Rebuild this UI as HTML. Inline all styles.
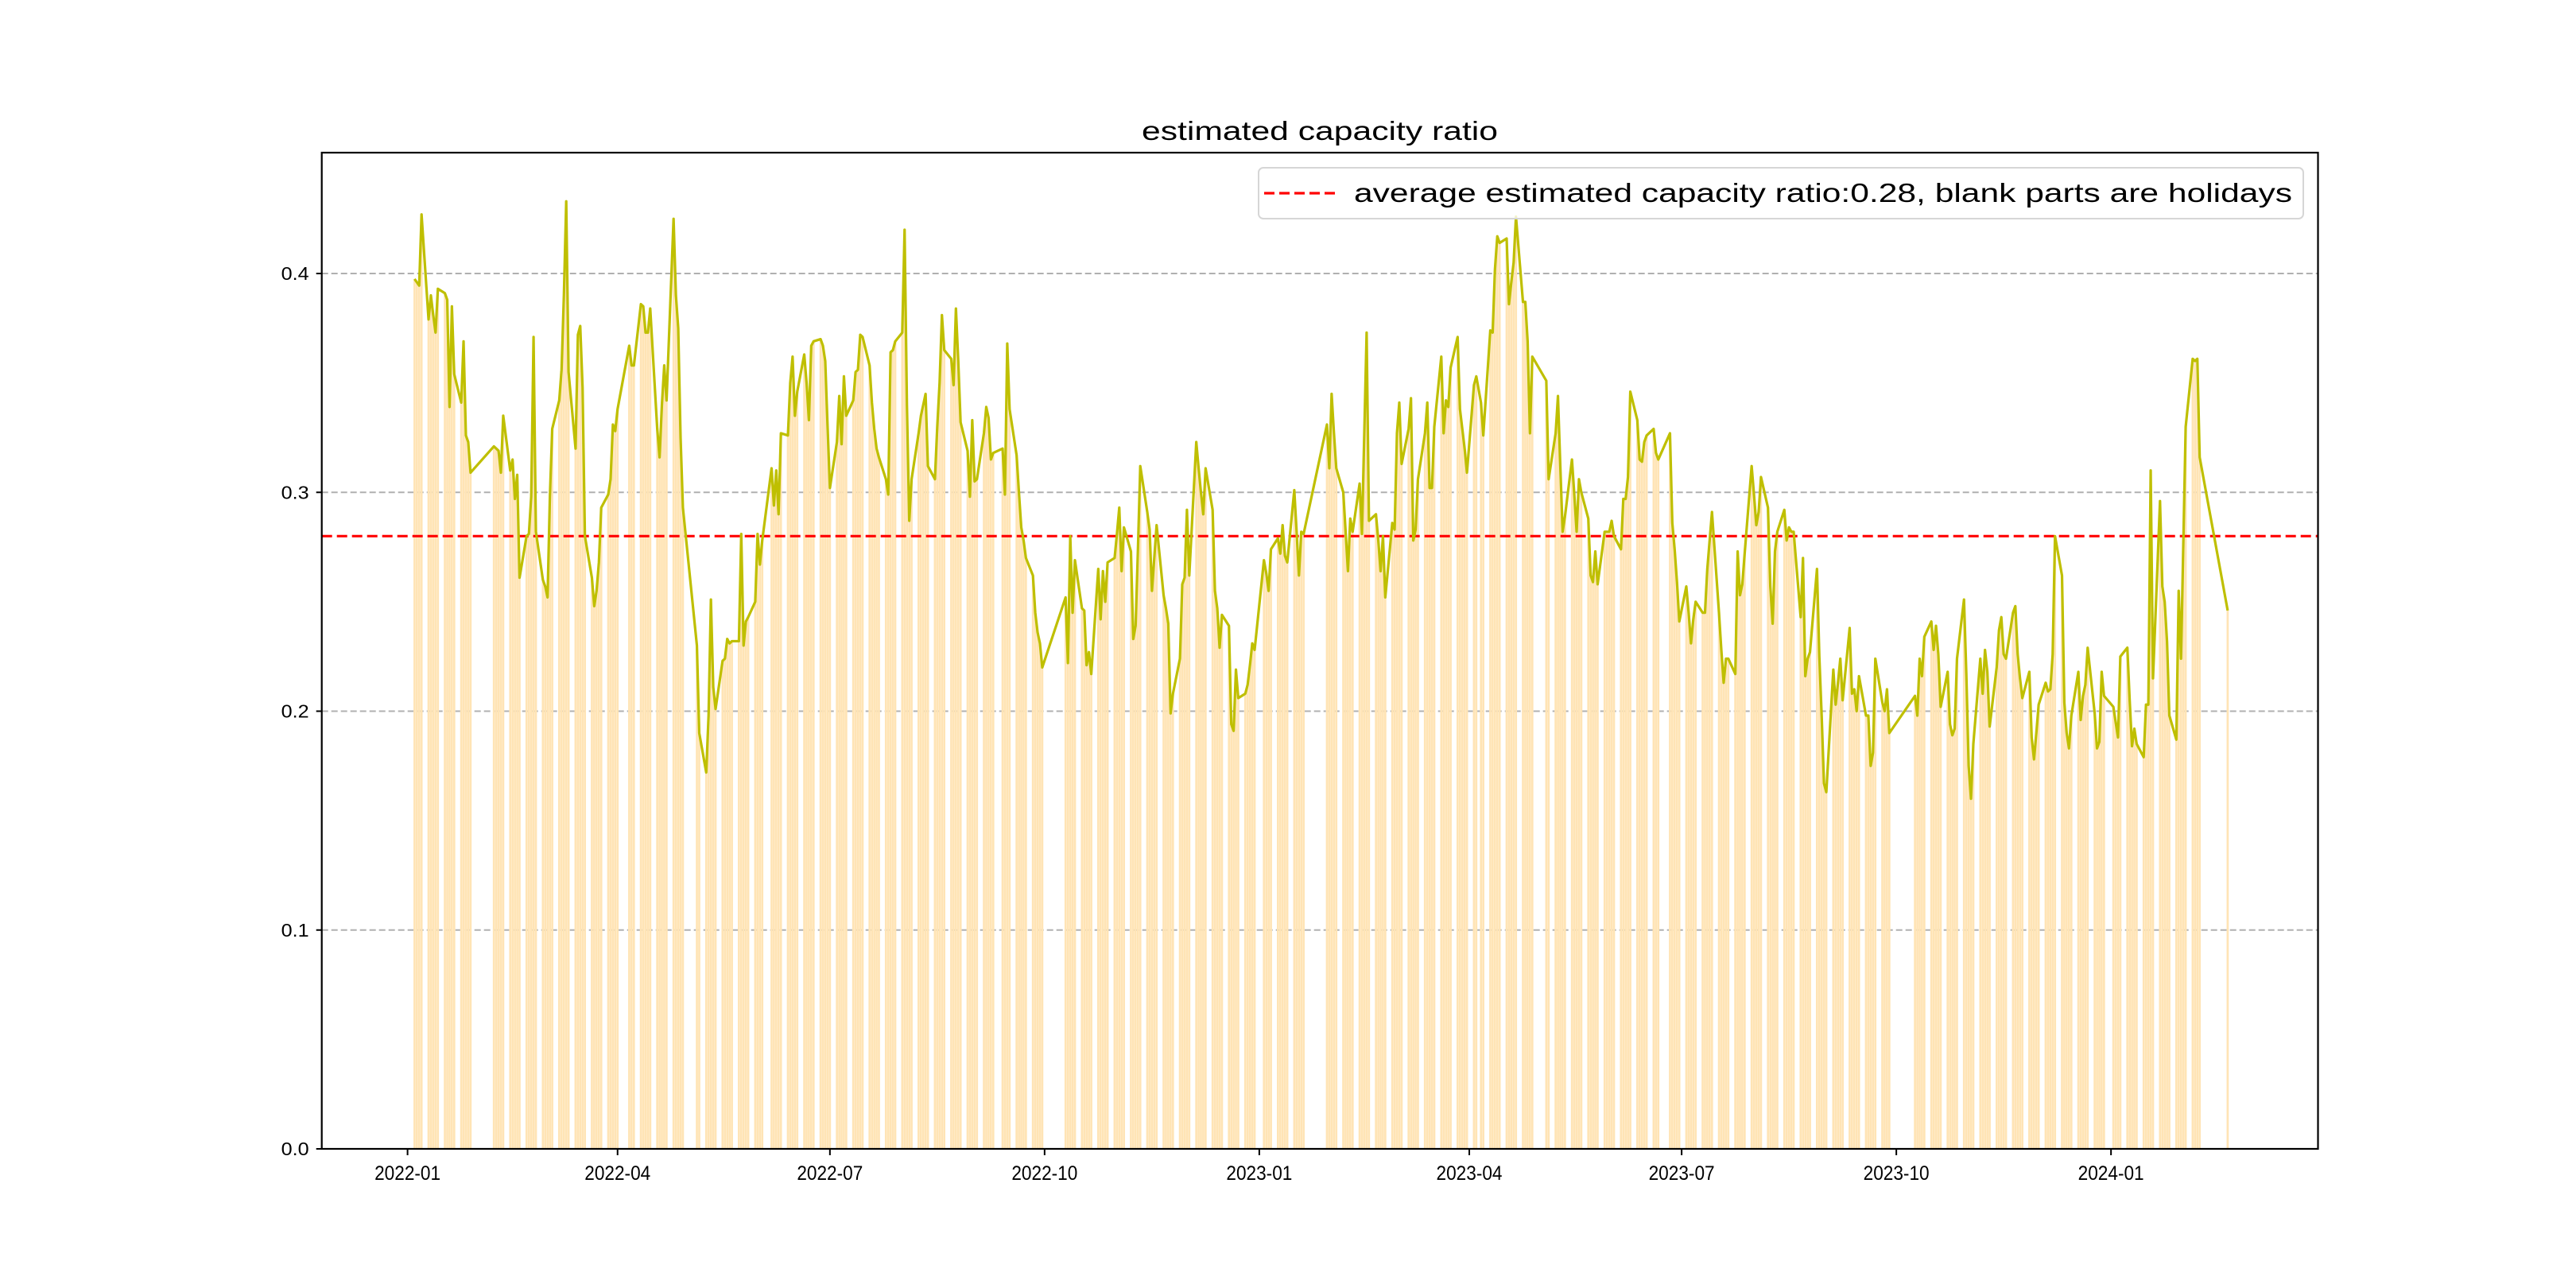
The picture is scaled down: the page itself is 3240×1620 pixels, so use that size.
<!DOCTYPE html>
<html><head><meta charset="utf-8"><style>
html,body{margin:0;padding:0;background:#fff;}
svg{display:block;}
text{font-family:"Liberation Sans","WenQuanYi Zen Hei",sans-serif;fill:#000;}
</style></head><body>
<svg id="chart" width="3240" height="1620" viewBox="0 0 3240 1620" xmlns="http://www.w3.org/2000/svg">
<rect x="0" y="0" width="3240" height="1620" fill="#fff"/>
<g id="grid"></g>
<g id="bars"></g>
<g id="avg"></g>
<g id="line"></g>
<rect x="404.7" y="192" width="2510.8" height="1253" fill="none" stroke="#000" stroke-width="2.2"/>
<g id="axes"></g>
<text x="1660" y="176" text-anchor="middle" font-size="33" textLength="448" lengthAdjust="spacingAndGlyphs">estimated capacity ratio</text>
<g>
<rect x="1583" y="211" width="1314" height="64" rx="6" fill="#fff" fill-opacity="0.8" stroke="#d6d6d6" stroke-width="2"/>
<line x1="1590" y1="243" x2="1684" y2="243" stroke="#ff0000" stroke-width="3.2" stroke-dasharray="13,6"/>
<text x="1703" y="254" font-size="33" textLength="1180" lengthAdjust="spacingAndGlyphs">average estimated capacity ratio:0.28, blank parts are holidays</text>
</g>
</svg>
<script>
// ---- data ----
const holidays = ["2022-01-03","2022-01-31","2022-02-01","2022-02-02","2022-02-03","2022-02-04","2022-04-04","2022-04-05","2022-05-02","2022-05-03","2022-05-04","2022-06-03","2022-09-12","2022-10-03","2022-10-04","2022-10-05","2022-10-06","2022-10-07","2023-01-02","2023-01-23","2023-01-24","2023-01-25","2023-01-26","2023-01-27","2023-04-05","2023-05-01","2023-05-02","2023-05-03","2023-06-22","2023-06-23","2023-09-29","2023-10-02","2023-10-03","2023-10-04","2023-10-05","2023-10-06","2024-01-01"];
const startDate = "2022-01-04";
const endDate = "2024-02-08";
const extraDates = ["2024-02-20"];
const ratios = [
.3975,.396,.3945,.427, .379,.390,.381,.373,.393, .391,.388,.339,.385,.354, .341,.369,.326,.323,.309,
.321,.320,.319,.309,.335, .310,.315,.297,.308,.261, .280,.281,.298,.371,.282, .260,.257,.252,.298,.329,
.342,.356,.39,.433,.355, .320,.372,.376,.348,.280, .261,.248,.255,.268,.293, .299,.306,.331,.328,.338,
.367,.358,.358, .386,.385,.373,.373,.384, .329,.316,.34,.358,.342, .425,.390,.375,.325,.293,
.230,.19, .172,.198,.251,.211,.201, .223,.224,.233,.231,.232, .232,.281,.230,.241,.243, .250,.281,.267,.278,
.311,.294,.310,.290,.327, .326,.35,.362,.335,.346, .363,.35,.333,.367,.369, .370,.367,.36,.33,.302,
.323,.344,.322,.353,.335, .342,.355,.356,.372,.371, .358,.341,.329,.320,.316, .306,.299,.364,.365,.369,
.373,.420,.34,.287,.306, .327,.335,.34,.345,.312, .306,.33,.35,.381,.365, .361,.349,.384,.36,.332,
.319,.298,.333,.305,.306, .327,.339,.334,.315,.318, .32,.299,.368,.338, .317,.30,.284,.278,.27, .262,.245,.236,.231,.22,
.252,.222,.28,.245,.269, .247,.246,.221,.227,.217, .265,.242,.264,.25,.268,
.27,.281,.293,.264,.284, .273,.233,.239,.274,.312, .291,.283,.255,.27,.285, .253,.247,.24,.199,.208,
.224,.258,.261,.292,.262, .323,.311,.30,.29,.311, .292,.255,.247,.229,.244, .239,.194,.191,.219,.206, .208,.212,.221,.231,.228,
.269,.263,.255,.274, .279,.272,.285,.271,.268, .301,.282,.262,.282,.281,
.331,.311,.345,.327,.311, .30,.282,.264,.288,.282, .304,.281,.327,.373,.287, .29,.278,.264,.28,.252,
.286,.283,.327,.341,.313, .329,.343,.278,.283,.306, .327,.341,.302,.302,.33, .362,.327,.342,.339,.357, .371,.338,.329,.32,.309,
.349,.353,.341,.326, .374,.373,.402,.417,.414, .416,.386,.396,.405,.426, .387,.387,.369,.327,.362,
.351,.306, .327,.344,.312,.282,.289, .315,.299,.282,.306,.30, .288,.262,.259,.273,.258, .282,.282,.282,.287,.28,
.274,.297,.297,.307,.346, .333,.315,.314,.323,.326, .329,.318,.315, .327,.286,.274,.259,.241,
.257,.245,.231,.242,.25, .245,.245,.265,.278,.291, .245,.228,.213,.224,.224, .217,.273,.253,.258,.272,
.312,.299,.285,.291,.307, .293,.257,.24,.273,.282, .292,.278,.284,.282,.282, .243,.27,.216,.224,.227, .265,.225,.198,.167,.163,
.219,.203,.213,.224,.205, .238,.208,.21,.2,.216, .198,.198,.175,.181,.224, .204,.2,.21,.19,
.207,.198,.224,.216,.234, .241,.228,.239,.226,.202, .218,.194,.189,.192,.224, .251,.217,.175,.160,.185,
.224,.208,.228,.218,.193, .220,.237,.243,.226,.224, .245,.248,.226,.215,.206, .218,.188,.178,.19,.203,
.213,.209,.21,.226,.280, .262,.204,.19,.183,.198, .218,.196,.207,.212,.229, .199,.183,.186,.218,.207,
.202,.195,.188,.225, .229,.205,.184,.192,.185, .179,.203,.203,.31,.215, .296,.257,.25,.232,.198,
.187,.255,.224,.277,.33, .361,.36,.361,.316,
.246
];
const averageRatio = 0.28;
const yTicks = [0.0,0.1,0.2,0.3,0.4];
const yTickLabels = ["0.0","0.1","0.2","0.3","0.4"];
const xTicks = ["2022-01-01","2022-04-01","2022-07-01","2022-10-01","2023-01-01","2023-04-01","2023-07-01","2023-10-01","2024-01-01"];
const xTickLabels = ["2022-01","2022-04","2022-07","2022-10","2023-01","2023-04","2023-07","2023-10","2024-01"];

// ---- scales ----
const NS="http://www.w3.org/2000/svg";
const X0=512.6, PXDAY=2.935, Y0=1445, PXUNIT=2752.5;
const PL=404.7, PR=2915.5;
const base=Date.UTC(2022,0,1);
function dayOf(s){const p=s.split("-");return (Date.UTC(+p[0],+p[1]-1,+p[2])-base)/86400000;}
function xs(s){return X0+dayOf(s)*PXDAY;}
function ys(v){return Y0-v*PXUNIT;}
function mk(tag,attrs,parent){const e=document.createElementNS(NS,tag);for(const k in attrs)e.setAttribute(k,attrs[k]);parent.appendChild(e);return e;}
function fmt(d){return d.getUTCFullYear()+"-"+String(d.getUTCMonth()+1).padStart(2,"0")+"-"+String(d.getUTCDate()).padStart(2,"0");}

// trading dates
const hs=new Set(holidays);
const dates=[];
for(let t=Date.UTC(2022,0,4); t<=Date.UTC(2024,1,8); t+=86400000){
  const d=new Date(t);const wd=d.getUTCDay();
  if(wd===0||wd===6)continue;
  const s=fmt(d); if(hs.has(s))continue; dates.push(s);
}
extraDates.forEach(s=>dates.push(s));
const n=Math.min(dates.length,ratios.length);

// grid
const grid=document.getElementById("grid");
yTicks.forEach((v,i)=>{
  if(v===0)return;
  const l=mk("line",{x1:PL,x2:PR,y1:ys(v),y2:ys(v),stroke:"#b0b0b0","stroke-width":2,"stroke-dasharray":"8,4"},grid);
  
  
});

// bars
const bars=document.getElementById("bars");
const bw=PXDAY*0.92;
for(let i=0;i<n;i++){
  const x=xs(dates[i]);const y=ys(ratios[i]);
  const b=mk("rect",{x:x-bw/2,y:y,width:bw,height:Y0-y,fill:"#ffe4b5"},bars);
  
  
}

// avg line
const avg=document.getElementById("avg");
const al=mk("line",{x1:PL,x2:PR,y1:ys(averageRatio),y2:ys(averageRatio),stroke:"#ff0000","stroke-width":3.2,"stroke-dasharray":"13,6"},avg);



// line
const lg=document.getElementById("line");
let d="";
for(let i=0;i<n;i++){d+=(i?"L":"M")+xs(dates[i]).toFixed(2)+","+ys(ratios[i]).toFixed(2);}
const pl=mk("path",{d:d,fill:"none",stroke:"#bfbf00","stroke-width":3.2,"stroke-linejoin":"round"},lg);



// axes ticks
const ax=document.getElementById("axes");
yTicks.forEach((v,i)=>{
  const t=mk("line",{x1:PL-7,x2:PL,y1:ys(v),y2:ys(v),stroke:"#000","stroke-width":2},ax);
  
  
  const tx=mk("text",{x:PL-16,y:ys(v)+8,"text-anchor":"end","font-size":23,textLength:35,lengthAdjust:"spacingAndGlyphs"},ax);
  tx.textContent=yTickLabels[i];
  
  
});
xTicks.forEach((s,i)=>{
  const x=xs(s);
  const t=mk("line",{x1:x,x2:x,y1:Y0,y2:Y0+8,stroke:"#000","stroke-width":2},ax);
  
  
  const tx=mk("text",{x:x,y:Y0+39,"text-anchor":"middle","font-size":25,textLength:83,lengthAdjust:"spacingAndGlyphs"},ax);
  tx.textContent=xTickLabels[i];
  
  
});
</script>
</body></html>
